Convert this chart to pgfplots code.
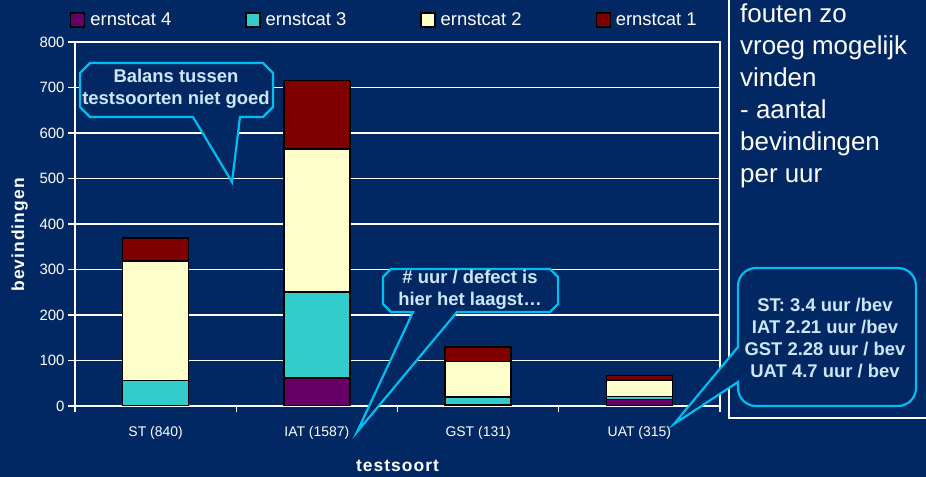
\documentclass[border=0pt]{standalone}
\usepackage{pgfplots}
\pgfplotsset{compat=1.18}
\usepackage{fontspec}
\setmainfont{Liberation Sans}

\definecolor{navy}{RGB}{1,40,98}
\definecolor{calloutline}{RGB}{0,190,240}
\definecolor{callouttext}{RGB}{204,230,250}
\definecolor{catfour}{RGB}{102,0,102}
\definecolor{catthree}{RGB}{51,204,204}
\definecolor{cattwo}{RGB}{255,255,204}
\definecolor{catone}{RGB}{128,0,0}

% bevindingen per testsoort, per ernstcategorie
\pgfplotstableread{
x y
0 0
1 61
2 3
3 14
}\catfour
\pgfplotstableread{
x y
0 56
1 189
2 17
3 7
}\catthree
\pgfplotstableread{
x y
0 263
1 315
2 78
3 36
}\cattwo
\pgfplotstableread{
x y
0 50
1 150
2 32
3 10
}\catone

\begin{document}
\begin{tikzpicture}[x=1bp,y=1bp]
\fill[navy] (0,0) rectangle (926,477);
\useasboundingbox (0,0) rectangle (926,477);

\begin{axis}[
  at={(75bp,71bp)}, anchor=south west,
  scale only axis, width=645bp, height=364bp,
  ybar stacked, bar width=66bp,
  xmin=-0.5, xmax=3.5, ymin=0, ymax=800,
  xtick={0,1,2,3},
  xticklabels={ST (840), IAT (1587), GST (131), UAT (315)},
  minor xtick={-0.5,0.5,1.5,2.5,3.5},
  ytick={0,100,...,800},
  xtick pos=bottom, ytick pos=left,
  tick align=outside,
  major tick length=7bp, minor tick length=6bp,
  major x tick style={draw=none},
  minor x tick style={white, line width=1.3bp},
  ytick style={white, line width=1.3bp},
  ymajorgrids,
  grid style={white, line width=1.3bp},
  axis line style={white, line width=1.3bp},
  /pgf/number format/assume math mode=true,
  tick label style={white},
  yticklabel style={font=\fontsize{15}{18}\selectfont},
  xticklabel style={font=\fontsize{14}{17}\selectfont, yshift=-10bp},
  xlabel={testsoort},
  ylabel={bevindingen},
  xlabel style={at={(axis description cs:0.5,-0.165)}, anchor=center, white,
    font=\bfseries\fontsize{17.5}{21}\selectfont\addfontfeature{LetterSpace=6}},
  ylabel style={at={(axis description cs:-0.086,0.47)}, anchor=center, white,
    font=\bfseries\fontsize{17.5}{21}\selectfont\addfontfeature{LetterSpace=6}},
  every axis plot/.append style={draw=black, line width=1.6bp},
  legend columns=4,
  legend image code/.code={\draw[#1, line width=1.2bp] (0bp,-7bp) rectangle (14bp,7bp);},
  legend style={at={(axis description cs:-0.00775,1.0604)}, anchor=west,
    draw=none, fill=none, text=white, font=\fontsize{18.5}{21}\selectfont,
    inner sep=0pt, row sep=0pt,
    nodes={inner sep=0pt},
    /tikz/every odd column/.append style={column sep=5bp},
    /tikz/every even column/.append style={column sep=74bp}},
]
\addplot[fill=catfour] table {\catfour};
\addlegendentry{ernstcat 4}
\addplot[fill=catthree] table {\catthree};
\addlegendentry{ernstcat 3}
\addplot[fill=cattwo] table {\cattwo};
\addlegendentry{ernstcat 2}
\addplot[fill=catone] table {\catone};
\addlegendentry{ernstcat 1}
\end{axis}

% kader rechts
\draw[white, line width=1.3bp] (729,477) -- (729,59) -- (926,59);
\begin{scope}[every node/.style={anchor=base west, text=white, font=\fontsize{26}{32}\selectfont, inner sep=0pt}]
\node at (740,454.3) {fouten zo};
\node at (740,422.3) {vroeg mogelijk};
\node at (740,390.3) {vinden};
\node at (740,358.3) {- aantal};
\node at (740,326.3) {bevindingen};
\node at (740,294.3) {per uur};
\end{scope}

% callouts
\begin{scope}[line width=2.2bp, draw=calloutline, fill=navy]
\filldraw (90,414) -- (263,414) -- (273,404) -- (273,370) -- (263,360) -- (240,360)
  -- (232,295) -- (193,360) -- (90,360) -- (80,370) -- (80,404) -- cycle;
\filldraw (391,208) -- (550,208) -- (558,200) -- (558,173) -- (550,165) -- (457,165)
  -- (357,45) -- (413,165) -- (391,165) -- (383,173) -- (383,200) -- cycle;
\filldraw (738,130) [rounded corners=18bp] -- (738,209) -- (916,209) -- (916,71)
  -- (738,71) [sharp corners] -- (738,95) -- (674,53) -- cycle;
\end{scope}
\begin{scope}[every node/.style={align=center, text=callouttext, inner sep=0pt,
    font=\bfseries\fontsize{18.5}{22}\selectfont}]
\node at (176,388.5) {Balans tussen\\testsoorten niet goed};
\node at (470,187) {\# uur / defect is\\hier het laagst\dots};
\node at (825,139) {ST: 3.4 uur /bev\\IAT 2.21 uur /bev\\GST 2.28 uur / bev\\UAT 4.7 uur / bev};
\end{scope}
\end{tikzpicture}
\end{document}
